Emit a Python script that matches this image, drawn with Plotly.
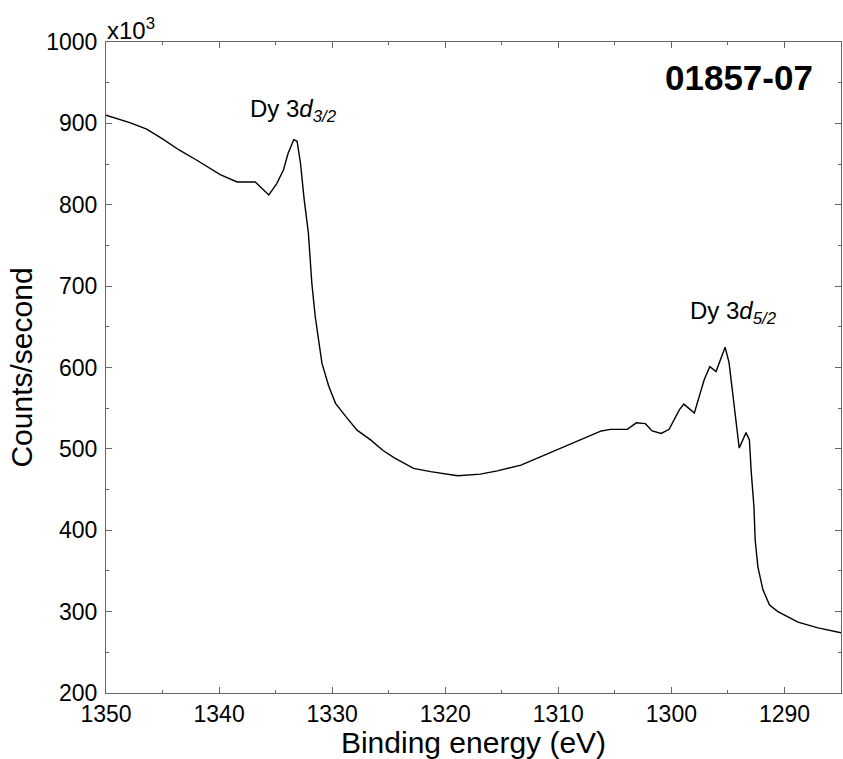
import plotly.graph_objects as go

energy = [1350.0, 1348.8, 1347.9, 1346.4, 1345.0, 1343.5, 1342.0, 1339.9, 1338.4, 1336.8,
          1335.6, 1334.9, 1334.3, 1333.9, 1333.4, 1333.1, 1332.8, 1332.47, 1332.1, 1331.8,
          1331.5, 1331.2, 1330.9, 1330.3, 1329.7, 1328.8, 1327.8, 1326.6, 1325.5, 1324.5,
          1322.8, 1321.3, 1318.9, 1316.9, 1315.4, 1313.3, 1311.6, 1310.1, 1308.0, 1306.2,
          1305.4, 1303.9, 1303.1, 1302.3, 1301.7, 1300.9, 1300.2, 1299.3, 1298.9, 1297.97,
          1297.1, 1296.6, 1296.05, 1295.25, 1294.9, 1294.4, 1294.0, 1293.4, 1293.1, 1292.94,
          1292.7, 1292.59, 1292.35, 1291.91, 1291.32, 1290.58, 1288.8, 1287.03, 1285.0]
counts = [910, 905, 901, 893, 881, 867, 855, 837, 828, 828,
          812, 826, 843, 863, 880, 878, 851, 806, 765, 704,
          663, 634, 605, 577, 556, 540, 523, 511, 498, 489,
          476, 472, 467, 469, 473, 480, 490, 499, 512, 522,
          524, 524, 532, 531, 522, 519, 524, 548, 555, 544,
          585, 601, 595, 625, 606, 544, 501, 520, 511, 472,
          429, 388, 355, 327, 308, 300, 287, 280, 274]

x_ticks = [1350, 1340, 1330, 1320, 1310, 1300, 1290]
y_ticks = [200, 300, 400, 500, 600, 700, 800, 900, 1000]

FONT = "Liberation Sans, Arial, sans-serif"
AXC = "#666"

fig = go.Figure()
fig.add_trace(go.Scatter(x=energy, y=counts, mode="lines",
                         line=dict(color="black", width=1.4), showlegend=False))

axis_common = dict(showline=True, linecolor=AXC, linewidth=1.2, mirror="allticks",
                   ticks="inside", ticklen=6, tickwidth=1, tickcolor=AXC,
                   showgrid=False, zeroline=False,
                   tickfont=dict(family=FONT, size=23, color="black"))

fig.update_xaxes(range=[1350, 1285], tickvals=x_ticks,
                 minor=dict(dtick=5, ticks="inside", ticklen=3, tickcolor=AXC, showgrid=False),
                 title=dict(text="Binding energy (eV)", font=dict(family=FONT, size=30, color="black"),
                            standoff=5),
                 **axis_common)
fig.update_yaxes(range=[200, 1000], tickvals=y_ticks, ticklabelstandoff=3,
                 minor=dict(dtick=50, ticks="inside", ticklen=3, tickcolor=AXC, showgrid=False),
                 title=dict(text="Counts/second", font=dict(family=FONT, size=30, color="black"),
                            standoff=4),
                 **axis_common)

fig.add_annotation(x=0, y=1, xref="paper", yref="paper", xanchor="left", yanchor="bottom",
                   text="x10<sup>3</sup>", showarrow=False, xshift=-1, yshift=-4,
                   font=dict(family=FONT, size=24, color="black"))
fig.add_annotation(x=0.965, y=0.946, xref="paper", yref="paper", xanchor="right", yanchor="middle",
                   text="<b>01857-07</b>", showarrow=False,
                   font=dict(family=FONT, size=35, color="black"))
fig.add_annotation(x=1337.45, y=916, xref="x", yref="y", xanchor="left", yanchor="middle",
                   text="Dy 3<i>d</i><sub><i>3/2</i></sub>", showarrow=False,
                   font=dict(family=FONT, size=24, color="black"))
fig.add_annotation(x=1298.5, y=668, xref="x", yref="y", xanchor="left", yanchor="middle",
                   text="Dy 3<i>d</i><sub><i>5/2</i></sub>", showarrow=False,
                   font=dict(family=FONT, size=24, color="black"))

fig.update_layout(width=843, height=759, plot_bgcolor="white", paper_bgcolor="white",
                  margin=dict(l=106, r=2, t=42, b=66))

fig.write_html("out.html")
